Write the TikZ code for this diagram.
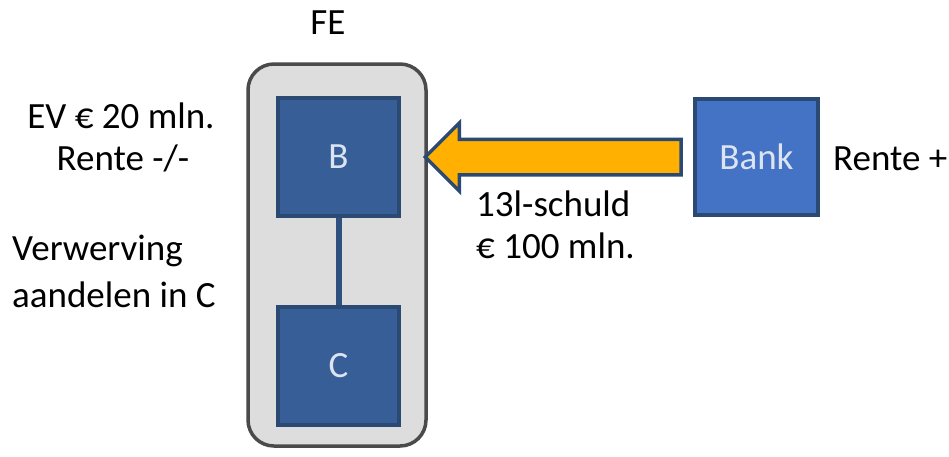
\documentclass[tikz,border=0pt]{standalone}
\usepackage{fontspec}
\setmainfont{Carlito}
\usetikzlibrary{shapes.arrows}
\definecolor{boxfill}{HTML}{375E97}
\definecolor{boxline}{HTML}{2A4A74}
\definecolor{bankfill}{HTML}{4472C4}
\definecolor{fegray}{HTML}{DDDDDD}
\definecolor{feline}{HTML}{4A4A4A}
\definecolor{arrowfill}{HTML}{FFB000}
\definecolor{labelfg}{HTML}{DCE4F2}
\begin{document}
\begin{tikzpicture}[x=1pt,y=-1pt,
  entity/.style={draw=boxline,line width=4pt,fill=boxfill,minimum width=121pt,minimum height=118pt,
    text=labelfg,font=\fontsize{37}{44}\selectfont,inner sep=0pt},
  txt/.style={font=\fontsize{37}{44}\selectfont,inner sep=0pt,text=black}]
  \useasboundingbox (0,0) rectangle (949,456);
  % fiscal unity container
  \node[draw=feline,line width=3.5pt,fill=fegray,rounded corners=26pt,
        minimum width=178pt,minimum height=382pt,inner sep=0pt] (fe) at (337,255) {};
  \node[txt,anchor=base] (fetitle) at (328,34) {FE};
  % entities
  \node[entity] (b) at (338.5,157) {B};
  \node[entity] (c) at (338.5,366) {C};
  \node[entity,fill=bankfill,minimum width=123pt,minimum height=116pt] (bank) at (756.5,157) {Bank};
  \draw[boxline!70!boxfill,line width=6pt] (b.south) -- (c.north);
  % loan arrow: shaft 32pt high, head 65pt high
  \node[single arrow,shape border rotate=180,draw=boxline,line width=3.5pt,fill=arrowfill,
        minimum height=256pt,inner xsep=0pt,inner ysep=0pt,single arrow head extend=16.5pt,
        single arrow tip angle=90,anchor=east] (loan) at (683,157) {\rule{0pt}{32pt}};
  % labels
  \node[txt,align=center,anchor=base] (ev) at (121,128) {EV € 20 mln.};
  \node[txt,align=center,anchor=base] (rente) at (123,170) {Rente -/-};
  \node[txt,anchor=base west] (verw) at (12,260) {Verwerving};
  \node[txt,anchor=base west] (aand) at (12,307) {aandelen in C};
  \node[txt,anchor=base west] (schuld) at (476,216) {13l-schuld};
  \node[txt,anchor=base west] (bedrag) at (476,258) {€ 100 mln.};
  \node[txt,anchor=base west] (renteplus) at (833,170) {Rente +};
\end{tikzpicture}
\end{document}
